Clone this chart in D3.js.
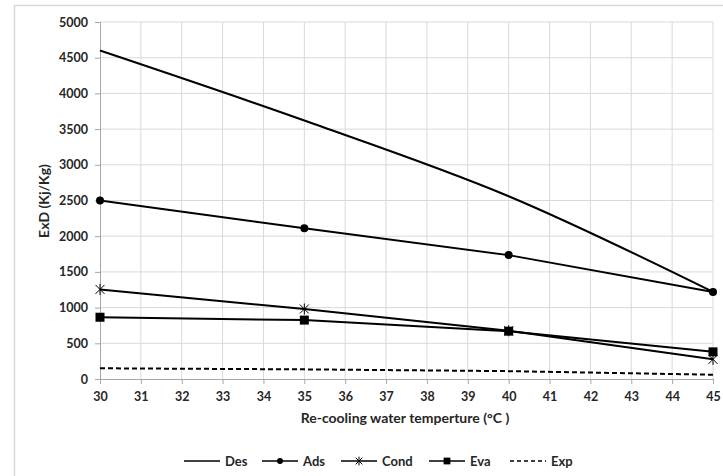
<!DOCTYPE html>
<html>
<head>
<meta charset="utf-8">
<script src="https://cdn.jsdelivr.net/npm/d3@7/dist/d3.min.js"></script>
<style>
  body { margin: 0; background: #fff; }
  text { font-family: Lato, "Open Sans", sans-serif; font-weight: bold; fill: #262626; }
</style>
</head>
<body>
<svg id="chart" width="723" height="476"></svg>
<script>
// re-cooling water temperature (°C)
const temps = [30, 35, 40, 45];
const desValues = [4600, 3620, 2560, 1220];
const adsValues = [2500, 2110, 1735, 1220];
const condValues = [1255, 980, 675, 275];
const evaValues = [865, 825, 670, 380];
const expValues = [150, 135, 110, 60];
const xTicks = d3.range(30, 46);
const yTicks = d3.range(0, 5001, 500);

const series = [
    { name: "Des", values: desValues, marker: "none", dash: null, smooth: true },
    { name: "Ads", values: adsValues, marker: "circle", dash: null },
    { name: "Cond", values: condValues, marker: "star", dash: null },
    { name: "Eva", values: evaValues, marker: "square", dash: null },
    { name: "Exp", values: expValues, marker: "none", dash: "5,3" },
];

const svg = d3.select("#chart");

// outer chart frame
svg.append("rect")
    .attr("x", 14.5).attr("y", 5.5)
    .attr("width", 720).attr("height", 480)
    .attr("fill", "none")
    .attr("stroke", "#d9d9d9")
    .attr("stroke-width", 1.5);

const plotLeft = 100, plotRight = 713, plotTop = 22, plotBottom = 379;

const x = d3.scaleLinear().domain([30, 45]).range([plotLeft, plotRight]);
const y = d3.scaleLinear().domain([0, 5000]).range([plotBottom, plotTop]);

// grid
svg.append("g")
    .selectAll("line")
    .data(xTicks.slice(1))
    .enter()
    .append("line")
    .attr("x1", (d) => x(d)).attr("x2", (d) => x(d))
    .attr("y1", plotTop).attr("y2", plotBottom)
    .attr("stroke", "#d9d9d9");

svg.append("g")
    .selectAll("line")
    .data(yTicks.slice(1))
    .enter()
    .append("line")
    .attr("x1", plotLeft).attr("x2", plotRight)
    .attr("y1", (d) => y(d)).attr("y2", (d) => y(d))
    .attr("stroke", "#d9d9d9");

// axes
let xAxis = svg.append("g")
    .attr("transform", `translate(0,${plotBottom})`)
    .call(d3.axisBottom(x).tickValues(xTicks).tickSize(5).tickPadding(8).tickFormat(d3.format("d")));
let yAxis = svg.append("g")
    .attr("transform", `translate(${plotLeft},0)`)
    .call(d3.axisLeft(y).tickValues(yTicks).tickSize(5).tickPadding(7).tickFormat(d3.format("d")));

[xAxis, yAxis].forEach((a) => {
    a.select(".domain").attr("stroke", "#a6a6a6");
    a.selectAll(".tick line").attr("stroke", "#a6a6a6");
    a.selectAll("text").attr("font-size", 12.5).attr("font-family", "Lato, sans-serif").attr("font-weight", "bold").attr("fill", "#262626");
});

svg.append("text")
    .attr("x", 405).attr("y", 423)
    .attr("text-anchor", "middle")
    .attr("font-size", 14)
    .text("Re-cooling water temperture (°C )");

svg.append("text")
    .attr("transform", "translate(49,201) rotate(-90)")
    .attr("text-anchor", "middle")
    .attr("font-size", 14)
    .text("ExD (Kj/Kg)");

// markers
function drawMarker(g, type, cx, cy, k) {
    if (type === "circle") {
        g.append("circle").attr("cx", cx).attr("cy", cy).attr("r", 4 * k).attr("fill", "#000");
    } else if (type === "square") {
        g.append("rect").attr("x", cx - 4.5 * k).attr("y", cy - 4.5 * k).attr("width", 9 * k).attr("height", 9 * k).attr("fill", "#000");
    } else if (type === "star") {
        const s = 4.5 * k;
        g.append("path")
            .attr("d", `M${cx - s},${cy - s}L${cx + s},${cy + s}M${cx - s},${cy + s}L${cx + s},${cy - s}M${cx},${cy - s - 1}L${cx},${cy + s + 1}`)
            .attr("stroke", "#000").attr("stroke-width", 1).attr("fill", "none");
    }
}

series.forEach((s) => {
    const pts = temps.map((t, i) => [t, s.values[i]]);
    const line = d3.line()
        .x((d) => x(d[0]))
        .y((d) => y(d[1]))
        .curve(s.smooth ? d3.curveCatmullRom.alpha(0) : d3.curveLinear);
    svg.append("path")
        .datum(pts)
        .attr("d", line)
        .attr("fill", "none")
        .attr("stroke", "#000")
        .attr("stroke-width", 2)
        .attr("stroke-dasharray", s.dash);
    const g = svg.append("g");
    pts.forEach((p) => drawMarker(g, s.marker, x(p[0]), y(p[1]), 1));
});

// legend
const legendX = [184, 262, 341, 429, 510];
series.forEach((s, i) => {
    const lx = legendX[i], ly = 461;
    svg.append("line")
        .attr("x1", lx).attr("x2", lx + 36)
        .attr("y1", ly).attr("y2", ly)
        .attr("stroke", "#000").attr("stroke-width", 1.6)
        .attr("stroke-dasharray", s.dash ? "4,3" : null);
    drawMarker(svg, s.marker, lx + 18, ly, 0.75);
    svg.append("text")
        .attr("x", lx + 41).attr("y", ly + 5)
        .attr("font-size", 13)
        .text(s.name);
});
</script>
</body>
</html>
